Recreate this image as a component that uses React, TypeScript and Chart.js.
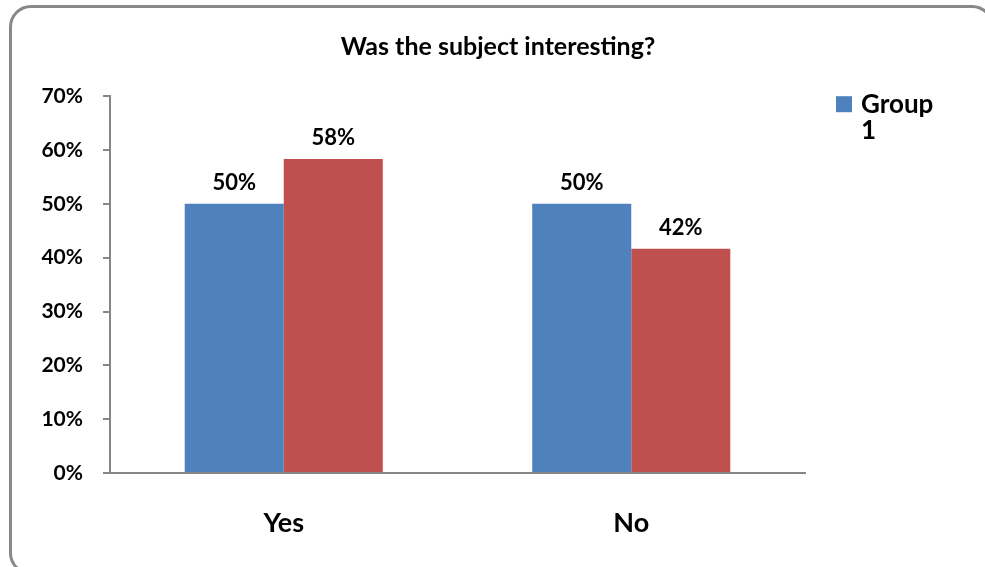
import React, { useEffect, useRef } from "react";
import { Chart, registerables } from "chart.js";

Chart.register(...registerables);

const categories = ["Yes", "No"];
const seriesNames = ["Group 1", "Group 2"];
const group1Values = [50, 50];
const group2Values = [58.33, 41.67];
const yTickValues = [0, 10, 20, 30, 40, 50, 60, 70];
const titleText = "Was the subject interesting?";
const colors = ["#4F81BD", "#C0504D"];

const FONT = "Lato, 'Open Sans', sans-serif";

const extrasPlugin = {
  id: "extras",
  afterDatasetsDraw(chart: any) {
    const ctx = chart.ctx;
    ctx.save();
    // title centered on the whole chart
    ctx.fillStyle = "#000";
    ctx.font = `bold 25px ${FONT}`;
    ctx.textAlign = "center";
    ctx.textBaseline = "middle";
    ctx.fillText(titleText, 498, 47);

    ctx.textBaseline = "alphabetic";
    ctx.font = `bold 22px ${FONT}`;
    chart.data.datasets.forEach((ds: any, di: number) => {
      const meta = chart.getDatasetMeta(di);
      meta.data.forEach((bar: any, i: number) => {
        const v = ds.data[i];
        ctx.fillText(Math.round(v) + "%", bar.x, bar.y - 14);
      });
    });
    // legend (only first series shown, wrapped)
    const ca = chart.chartArea;
    const lx = ca.right + 31;
    const ly = ca.top;
    ctx.fillStyle = colors[0];
    ctx.fillRect(lx, ly, 16, 16);
    ctx.fillStyle = "#000";
    ctx.font = `bold 26px ${FONT}`;
    ctx.textAlign = "left";
    const words = seriesNames[0].split(" ");
    ctx.fillText(words[0], lx + 25, ly + 17);
    ctx.fillText(words[1], lx + 25, ly + 43);
    ctx.restore();
  },
};

export default function App() {
  const ref = useRef<HTMLCanvasElement>(null);
  useEffect(() => {
    if (!ref.current) return;
    const chart = new Chart(ref.current, {
      type: "bar",
      data: {
        labels: categories,
        datasets: [
          {
            label: seriesNames[0],
            data: group1Values,
            backgroundColor: colors[0],
            categoryPercentage: 0.57,
            barPercentage: 1,
          },
          {
            label: seriesNames[1],
            data: group2Values,
            backgroundColor: colors[1],
            categoryPercentage: 0.57,
            barPercentage: 1,
          },
        ],
      },
      options: {
        animation: false,
        responsive: false,
        layout: { padding: { left: 12, right: 180, top: 0, bottom: 0 } },
        plugins: {
          legend: { display: false },
          tooltip: { enabled: false },
          title: {
            display: true,
            text: titleText,
            color: "rgba(0,0,0,0)",
            font: { family: FONT, size: 21, weight: "bold" },
            padding: { top: 34, bottom: 37 },
          },
        },
        scales: {
          x: {
            grid: { display: false, drawTicks: false },
            border: { display: true, color: "#868686", width: 2 },
            ticks: {
              color: "#000",
              font: { family: FONT, size: 27, weight: "bold" },
              padding: 34,
            },
            afterFit: (s: any) => {
              s.height = 94;
            },
          },
          y: {
            min: 0,
            max: 70,
            afterBuildTicks: (s: any) => {
              s.ticks = yTickValues.map((v) => ({ value: v }));
            },
            grid: {
              drawOnChartArea: false,
              drawTicks: true,
              tickLength: 7,
              color: "#868686",
              lineWidth: 2,
            },
            border: { display: true, color: "#868686", width: 2 },
            ticks: {
              color: "#000",
              font: { family: FONT, size: 21, weight: "bold" },
              padding: 20,
              callback: (v: any) => v + "%",
            },
            afterFit: (s: any) => {
              s.width = 98;
            },
          },
        },
      },
      plugins: [extrasPlugin],
    });
    return () => chart.destroy();
  }, []);
  return (
    <div style={{ position: "fixed", left: 0, top: 0, width: 985, height: 567, background: "#fff" }}>
      <div
        style={{
          position: "absolute",
          left: 9,
          top: 5,
          width: 985,
          height: 570,
          border: "3px solid #898989",
          borderRadius: 22,
          boxSizing: "border-box",
        }}
      />
      <canvas ref={ref} width={985} height={567} style={{ position: "absolute", left: 0, top: 0 }} />
    </div>
  );
}
